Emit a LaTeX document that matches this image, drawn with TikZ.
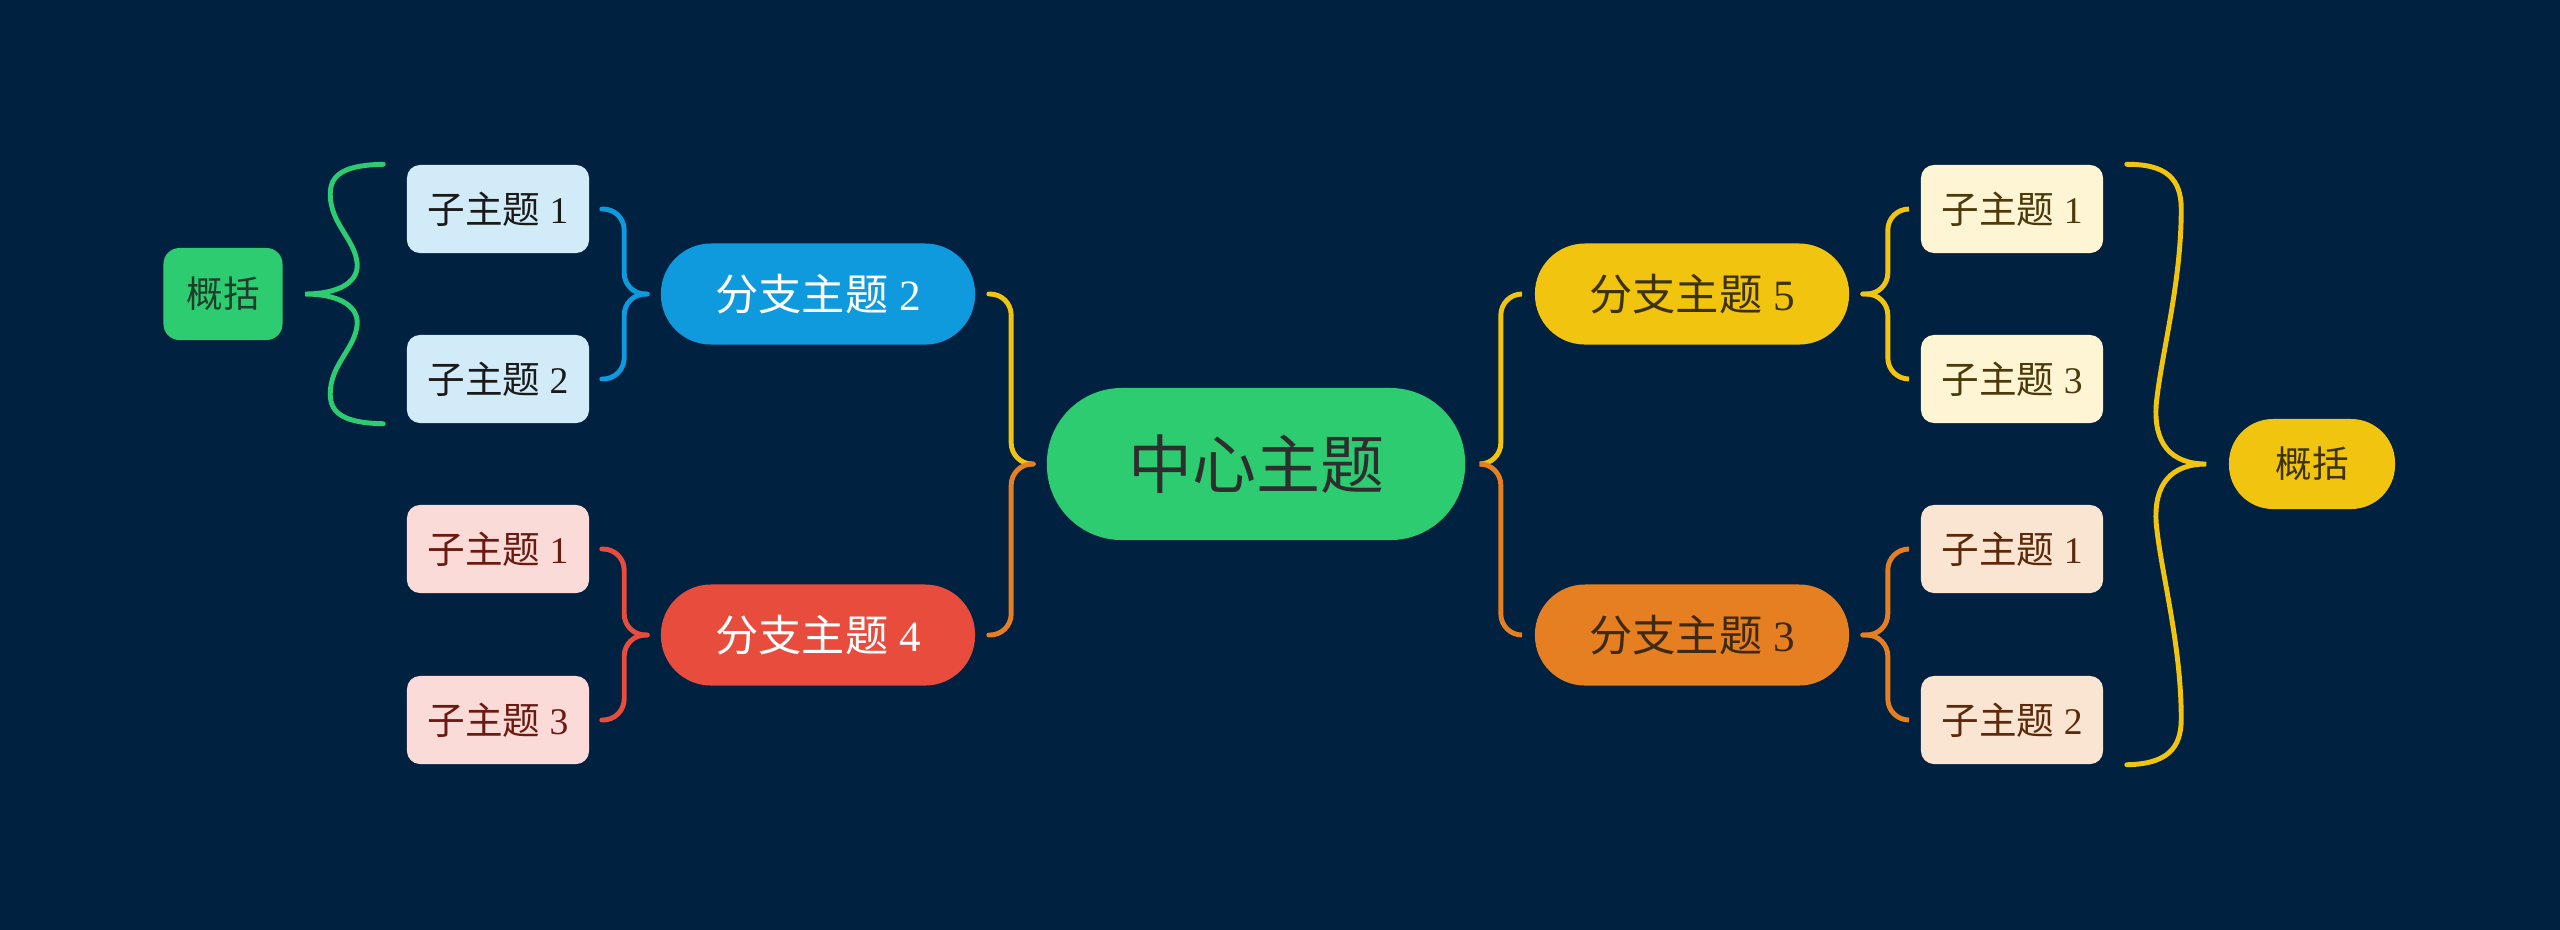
\documentclass[tikz,border=0pt]{standalone}
\usepackage{fontspec}
\setmainfont{Liberation Serif}
\newfontfamily\cjk{Noto Sans CJK SC}
\usetikzlibrary{calc}
\definecolor{bg}{HTML}{012140}
\definecolor{cgreen}{HTML}{2ECC71}
\definecolor{cblue}{HTML}{0E9ADD}
\definecolor{cred}{HTML}{E74C3C}
\definecolor{cyellow}{HTML}{F1C40F}
\definecolor{corange}{HTML}{E67E22}
\definecolor{sblue}{HTML}{D1EBF8}
\definecolor{spink}{HTML}{FADBD8}
\definecolor{scream}{HTML}{FEF5D4}
\definecolor{speach}{HTML}{FAE5D3}
\definecolor{tdark}{HTML}{2E2E2E}
\definecolor{tblue}{HTML}{1A1A1A}
\definecolor{tpink}{HTML}{6B1A12}
\definecolor{tcream}{HTML}{4D3A0A}
\definecolor{tpeach}{HTML}{5C2A0A}
\definecolor{tyel}{HTML}{3D3208}
\definecolor{tor}{HTML}{3D2A10}
\definecolor{tgreen}{HTML}{1E3D2A}
\begin{document}
\begin{tikzpicture}[x=0.01cm,y=-0.01cm,
  centre/.style={fill=cgreen, rounded corners=0.75cm, minimum width=4.18cm, minimum height=1.52cm, inner sep=0pt, text=tdark, font=\fontsize{18.2}{20}\selectfont},
  branch/.style={fill=#1, rounded corners=0.5cm, minimum width=3.14cm, minimum height=1.01cm, inner sep=0pt, font=\fontsize{12.3}{14}\selectfont},
  sub/.style={fill=#1, rounded corners=0.13cm, minimum width=1.82cm, minimum height=0.88cm, inner sep=0pt, font=\fontsize{10.7}{12}\selectfont},
  conn/.style={draw=#1, line width=1.4pt, rounded corners=6pt, line cap=round},
  brace/.style={draw=#1, line width=1.4pt, line cap=round}
]
\useasboundingbox (0,0) rectangle (2560,929);
\fill[bg] (-20,-20) rectangle (2580,949);

% nodes
\node[centre] (c) at (1256,464) {\cjk 中心主题};
\node[branch=cblue, text=white] (b2) at (818,294) {{\cjk 分支主题} 2};
\node[branch=cred, text=white] (b4) at (818,635) {{\cjk 分支主题} 4};
\node[branch=cyellow, text=tyel] (b5) at (1692,294) {{\cjk 分支主题} 5};
\node[branch=corange, text=tor] (b3) at (1692,635) {{\cjk 分支主题} 3};

\node[sub=sblue, text=tblue] (l1) at (498,209) {{\cjk 子主题} 1};
\node[sub=sblue, text=tblue] (l2) at (498,379) {{\cjk 子主题} 2};
\node[sub=spink, text=tpink] (l3) at (498,549) {{\cjk 子主题} 1};
\node[sub=spink, text=tpink] (l4) at (498,720) {{\cjk 子主题} 3};
\node[sub=scream, text=tcream] (r1) at (2012,209) {{\cjk 子主题} 1};
\node[sub=scream, text=tcream] (r2) at (2012,379) {{\cjk 子主题} 3};
\node[sub=speach, text=tpeach] (r3) at (2012,549) {{\cjk 子主题} 1};
\node[sub=speach, text=tpeach] (r4) at (2012,720) {{\cjk 子主题} 2};

\node[fill=cgreen, rounded corners=0.16cm, minimum width=1.19cm, minimum height=0.92cm, inner sep=0pt, text=tgreen, font=\fontsize{10.4}{12}\selectfont] (sl) at (223,294) {\cjk 概括};
\node[fill=cyellow, rounded corners=0.44cm, minimum width=1.66cm, minimum height=0.90cm, inner sep=0pt, text=tyel, font=\fontsize{10.4}{12}\selectfont] (sr) at (2312,464) {\cjk 概括};

% central connectors
\draw[conn=cyellow] ($(c.west)+(-13,0)$) -- ++(-22,0) |- ($(b2.east)+(13,0)$);
\draw[conn=corange] ($(c.west)+(-13,0)$) -- ++(-22,0) |- ($(b4.east)+(13,0)$);
\draw[conn=cyellow] ($(c.east)+(14,0)$) -- ++(21,0) |- ($(b5.west)+(-13,0)$);
\draw[conn=corange] ($(c.east)+(14,0)$) -- ++(21,0) |- ($(b3.west)+(-13,0)$);

% branch connectors
\draw[conn=cblue] ($(b2.west)+(-13,0)$) -- ++(-23,0) |- ($(l1.east)+(12,0)$);
\draw[conn=cblue] ($(b2.west)+(-13,0)$) -- ++(-23,0) |- ($(l2.east)+(12,0)$);
\draw[conn=cred] ($(b4.west)+(-13,0)$) -- ++(-23,0) |- ($(l3.east)+(12,0)$);
\draw[conn=cred] ($(b4.west)+(-13,0)$) -- ++(-23,0) |- ($(l4.east)+(12,0)$);
\draw[conn=cyellow] ($(b5.east)+(13,0)$) -- ++(25,0) |- ($(r1.west)+(-13,0)$);
\draw[conn=cyellow] ($(b5.east)+(13,0)$) -- ++(25,0) |- ($(r2.west)+(-13,0)$);
\draw[conn=corange] ($(b3.east)+(13,0)$) -- ++(25,0) |- ($(r3.west)+(-13,0)$);
\draw[conn=corange] ($(b3.east)+(13,0)$) -- ++(25,0) |- ($(r4.west)+(-13,0)$);

% summary braces
\coordinate (ltip) at ($(sl.east)+(22,0)$);
\coordinate (ltop) at ($(l1.north west)+(-23,0)$);
\coordinate (lbot) at ($(l2.south west)+(-23,0)$);
\begin{scope}[shift={(ltip)}]
\draw[brace=cgreen] (ltop) .. controls (40,-129) and (25,-120) .. (25,-100)
   .. controls (25,-70) and (50,-55) .. (52,-30)
   .. controls (53,-10) and (30,0) .. (0,0)
   .. controls (30,0) and (53,10) .. (52,30)
   .. controls (50,55) and (25,70) .. (25,100)
   .. controls (25,120) and (40,129) .. (lbot);
\end{scope}

\coordinate (rtip) at ($(sr.west)+(-22,0)$);
\coordinate (rtop) at ($(r1.north east)+(23,0)$);
\coordinate (rbot) at ($(r4.south east)+(23,0)$);
\begin{scope}[shift={(rtip)}]
\draw[brace=cyellow] (rtop) .. controls (-40,-300) and (-25,-285) .. (-25,-255)
   .. controls (-25,-180) and (-45,-110) .. (-50,-60)
   .. controls (-53,-20) and (-35,0) .. (0,0)
   .. controls (-35,0) and (-53,20) .. (-50,60)
   .. controls (-45,110) and (-25,180) .. (-25,255)
   .. controls (-25,285) and (-40,300) .. (rbot);
\end{scope}
\end{tikzpicture}
\end{document}
